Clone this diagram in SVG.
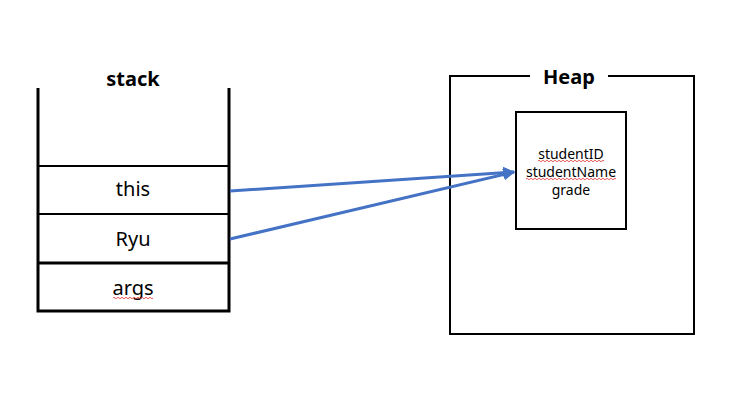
<svg xmlns="http://www.w3.org/2000/svg" width="744" height="405" viewBox="0 0 744 405">
<defs>
<style>
.t{font-family:"Noto Sans","Open Sans","Liberation Sans",sans-serif;fill:#000;text-anchor:middle}
.big{font-size:20px}
.small{font-size:14px}
.bold{font-weight:bold;font-size:20px}
.k{stroke:#000;fill:none}
.conn{stroke:#4472C4;stroke-width:3;fill:none}
.sq{stroke:#e03030;stroke-width:0.8;fill:none}
</style>
<marker id="ah" viewBox="0 0 10 10" refX="9" refY="5" markerWidth="4" markerHeight="4" orient="auto" markerUnits="strokeWidth">
<path d="M0,0 L10,5 L0,10 z" fill="#4472C4"/>
</marker>
</defs>
<rect width="744" height="405" fill="#fff"/>
<g id="stack">
<path class="k" stroke-width="3" d="M38,88 V311 H229 V88"/>
<line class="k" stroke-width="2" x1="38" y1="166" x2="229" y2="166"/>
<line class="k" stroke-width="2" x1="38" y1="214" x2="229" y2="214"/>
<line class="k" stroke-width="3" x1="38" y1="263" x2="229" y2="263"/>
<text class="t bold" x="133" y="86">stack</text>
</g>
<g id="this"><text class="t big" x="133" y="196">this</text></g>
<g id="ryu"><text class="t big" x="133" y="246">Ryu</text></g>
<g id="args"><text class="t big" x="133" y="295">args</text>
<path class="sq" d="M113,298 q1,-1.5 2,0 t2,0 t2,0 t2,0 t2,0 t2,0 t2,0 t2,0 t2,0 t2,0 t2,0 t2,0 t2,0 t2,0 t2,0 t2,0 t2,0 t2,0 t2,0 t2,0"/></g>
<g id="heap">
<path class="k" stroke-width="2" d="M530,76 H450 V334 H694 V76 H608"/>
<text class="t bold" x="569" y="84">Heap</text>
</g>
<g id="object">
<rect class="k" stroke-width="2" x="516" y="112" width="110" height="117"/>
<text class="t small" x="571" y="159">studentID</text>
<text class="t small" x="571" y="177">studentName</text>
<text class="t small" x="571" y="195">grade</text>
<path class="sq" d="M538,161 q1,-1.5 2,0 t2,0 t2,0 t2,0 t2,0 t2,0 t2,0 t2,0 t2,0 t2,0 t2,0 t2,0 t2,0 t2,0 t2,0 t2,0 t2,0 t2,0 t2,0 t2,0 t2,0 t2,0 t2,0 t2,0 t2,0 t2,0 t2,0 t2,0 t2,0 t2,0 t2,0 t2,0 t2,0"/>
<path class="sq" d="M526,179 q1,-1.5 2,0 t2,0 t2,0 t2,0 t2,0 t2,0 t2,0 t2,0 t2,0 t2,0 t2,0 t2,0 t2,0 t2,0 t2,0 t2,0 t2,0 t2,0 t2,0 t2,0 t2,0 t2,0 t2,0 t2,0 t2,0 t2,0 t2,0 t2,0 t2,0 t2,0 t2,0 t2,0 t2,0 t2,0 t2,0 t2,0 t2,0 t2,0 t2,0 t2,0 t2,0 t2,0 t2,0 t2,0 t2,0"/>
</g>
<g id="connectors">
<line class="conn" x1="230" y1="191" x2="514" y2="172" marker-end="url(#ah)"/>
<line class="conn" x1="230" y1="239" x2="514" y2="172" marker-end="url(#ah)"/>
</g>
</svg>
